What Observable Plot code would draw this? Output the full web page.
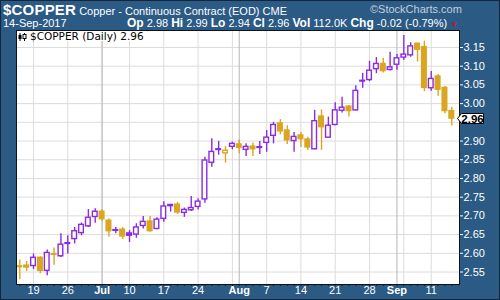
<!DOCTYPE html>
<html><head><meta charset="utf-8">
<script src="https://cdn.jsdelivr.net/npm/d3@7"></script>
<script src="https://cdn.jsdelivr.net/npm/@observablehq/plot@0.6"></script>
<style>
html,body{margin:0;padding:0;background:#2b5a84;}
#wrap{position:relative;width:500px;height:300px;overflow:hidden;background:#2b5a84;font-family:"Liberation Sans",Arial,sans-serif;color:#fff;}
#wrap::after{content:"";position:absolute;left:0;top:0;width:498px;height:298px;border:1px solid #13263b;pointer-events:none;}
#chart{position:absolute;left:0;top:0;}
.hdr{position:absolute;white-space:nowrap;line-height:1;}
#t1{left:3px;top:2px;font-size:11px;}
#t1 b{font-size:15px;letter-spacing:0.2px;}
#wm{left:370px;top:4px;font-size:11px;color:#c3cfdb;}
#t2{left:3px;top:18px;font-size:11px;}
#ohlc{left:127px;top:17px;font-size:11px;}
#ohlc b{font-size:12px;}
#ohlc .tri{color:#d0103a;font-size:8px;}
#legend{position:absolute;left:17px;top:31px;background:#fff;color:#000;font-family:"DejaVu Sans",Verdana,sans-serif;font-size:10.5px;line-height:10px;padding:0 3px 0 1px;white-space:nowrap;}
#legend svg{vertical-align:-1px;margin-right:3px;}
#lasttag{position:absolute;}
</style>
</head><body>
<div id="wrap">
  <div id="chart"></div>
  <div class="hdr" id="t1"><b>$COPPER</b> Copper - Continuous Contract (EOD) CME</div>
  <div class="hdr" id="wm">&copy;StockCharts.com</div>
  <div class="hdr" id="t2">14-Sep-2017</div>
  <div class="hdr" id="ohlc"><b>Op</b> 2.98 <b>Hi</b> 2.99 <b>Lo</b> 2.94 <b>Cl</b> 2.96 <b>Vol</b> 112.0K <b>Chg</b> -0.02 (-0.79%) <span class="tri">&#9660;</span></div>
  <div id="legend"><svg width="9" height="8" viewBox="0 0 9 8"><line x1="2" y1="0" x2="2" y2="8" stroke="#000"/><rect x="0.5" y="2" width="3" height="4" fill="#000"/><line x1="6.5" y1="0" x2="6.5" y2="8" stroke="#000"/><rect x="5" y="1.5" width="3" height="4" fill="#fff" stroke="#000"/></svg>$COPPER (Daily) 2.96</div>
</div>
<script>
// ---- data ----
const dates = ["2017-06-15","2017-06-16","2017-06-19","2017-06-20","2017-06-21","2017-06-22","2017-06-23","2017-06-26","2017-06-27","2017-06-28","2017-06-29","2017-06-30",
"2017-07-03","2017-07-05","2017-07-06","2017-07-07","2017-07-10","2017-07-11","2017-07-12","2017-07-13","2017-07-14","2017-07-17","2017-07-18","2017-07-19","2017-07-20","2017-07-21","2017-07-24","2017-07-25","2017-07-26","2017-07-27","2017-07-28","2017-07-31",
"2017-08-01","2017-08-02","2017-08-03","2017-08-04","2017-08-07","2017-08-08","2017-08-09","2017-08-10","2017-08-11","2017-08-14","2017-08-15","2017-08-16","2017-08-17","2017-08-18","2017-08-21","2017-08-22","2017-08-23","2017-08-24","2017-08-25","2017-08-28","2017-08-29","2017-08-30","2017-08-31",
"2017-09-01","2017-09-05","2017-09-06","2017-09-07","2017-09-08","2017-09-11","2017-09-12","2017-09-13","2017-09-14"];
const open  = [2.565,2.567,2.566,2.588,2.553,2.598,2.592,2.627,2.638,2.654,2.672,2.697,2.711,2.687,2.662,2.663,2.653,2.650,2.673,2.685,2.665,2.692,2.729,2.730,2.708,2.715,2.724,2.744,2.842,2.878,2.867,2.8845,2.891,2.8765,2.885,2.8835,2.895,2.914,2.947,2.928,2.900,2.915,2.904,2.878,2.9655,2.909,2.943,2.981,2.992,2.982,3.061,3.063,3.092,3.106,3.090,3.104,3.123,3.129,3.160,3.151,3.041,3.0725,3.042,2.98];
const high  = [2.582,2.578,2.598,2.591,2.609,2.614,2.652,2.647,2.669,2.681,2.717,2.719,2.717,2.692,2.669,2.669,2.661,2.679,2.698,2.698,2.695,2.738,2.731,2.736,2.721,2.752,2.746,2.857,2.906,2.899,2.885,2.897,2.903,2.8925,2.895,2.899,2.928,2.950,2.9575,2.941,2.923,2.9235,2.910,2.982,2.983,2.964,3.002,3.017,2.995,3.048,3.081,3.113,3.123,3.121,3.137,3.131,3.182,3.163,3.162,3.167,3.086,3.078,3.046,2.99];
const low   = [2.529,2.551,2.557,2.545,2.540,2.568,2.589,2.598,2.625,2.647,2.669,2.680,2.685,2.643,2.652,2.637,2.629,2.640,2.665,2.657,2.663,2.683,2.710,2.704,2.696,2.712,2.716,2.734,2.830,2.862,2.841,2.8765,2.866,2.859,2.859,2.864,2.870,2.8925,2.9166,2.891,2.870,2.883,2.875,2.8765,2.875,2.9086,2.941,2.975,2.964,2.980,3.041,3.059,3.080,3.082,3.087,3.089,3.115,3.124,3.111,3.032,3.033,3.020,2.973,2.94];
const close = [2.563,2.562,2.588,2.553,2.601,2.596,2.623,2.625,2.659,2.676,2.695,2.711,2.691,2.659,2.660,2.645,2.647,2.669,2.684,2.659,2.690,2.725,2.726,2.709,2.716,2.721,2.738,2.848,2.871,2.876,2.874,2.8925,2.882,2.8845,2.878,2.8815,2.909,2.943,2.926,2.902,2.911,2.905,2.883,2.953,2.937,2.941,2.982,2.989,2.980,3.034,3.059,3.088,3.106,3.087,3.097,3.121,3.131,3.153,3.144,3.042,3.066,3.037,2.980,2.96];
const prevClose0 = 2.57;
const lastPrice = 2.96;
const weekTicks  = ["2017-06-19","2017-06-26","2017-07-03","2017-07-10","2017-07-17","2017-07-24","2017-07-31","2017-08-07","2017-08-14","2017-08-21","2017-08-28","2017-09-05","2017-09-11"];
const monthTicks = ["2017-07-03","2017-08-01","2017-09-01"];
const dayLabelTicks = ["2017-06-19","2017-06-26","2017-07-10","2017-07-17","2017-07-24","2017-08-07","2017-08-14","2017-08-21","2017-08-28","2017-09-11"];
const yGrid = [2.55,2.60,2.65,2.70,2.75,2.80,2.85,2.90,2.95,3.00,3.05,3.10,3.15];
const yLabels = [2.55,2.60,2.65,2.70,2.75,2.80,2.85,2.90,3.00,3.05,3.10,3.15]; // 2.95 sits under the last-price tag

// ---- build ----
const PURPLE = "#8a2be2", ORANGE = "#daa520";
const parse = d3.utcParse("%Y-%m-%d");
const idx = d => dates.indexOf(d);
const rows = dates.map((d, i) => {
  const prev = i === 0 ? prevClose0 : close[i - 1];
  return {i, date: d, open: open[i], high: high[i], low: low[i], close: close[i],
    color: close[i] >= prev ? PURPLE : ORANGE, hollow: close[i] > open[i]};
});
const xmin = -0.48, xmax = 64.12;
const hw = 0.34;

const plot = Plot.plot({
  width: 500, height: 300,
  marginLeft: 16, marginRight: 41, marginTop: 30, marginBottom: 16,
  style: {background: "transparent", fontFamily: "'Liberation Sans', Arial, sans-serif", overflow: "visible"},
  x: {type: "linear", domain: [xmin, xmax], axis: null, label: null},
  y: {domain: [2.5166, 3.1954], axis: null, label: null},
  marks: [
    Plot.frame({fill: "white", stroke: null}),
    Plot.gridY(yGrid, {stroke: "#dcdcdc", strokeOpacity: 1}),
    Plot.gridX(weekTicks.map(idx), {stroke: "#dcdcdc", strokeOpacity: 1}),
    Plot.gridX(monthTicks.map(idx), {stroke: "#b5b5b5", strokeOpacity: 1}),
    Plot.ruleX(rows, {x: "i", y1: "low", y2: "high", stroke: d => d.color, strokeWidth: 1.4}),
    Plot.rect(rows.filter(d => d.hollow), {x1: d => d.i - hw, x2: d => d.i + hw, y1: "open", y2: "close", fill: "white", stroke: d => d.color, strokeWidth: 1.4}),
    Plot.rect(rows.filter(d => !d.hollow), {x1: d => d.i - hw, x2: d => d.i + hw, y1: "open", y2: "close", fill: d => d.color, stroke: d => d.color, strokeWidth: 1.4}),
    Plot.frame({stroke: "#111", strokeWidth: 1}),
    Plot.axisY(yLabels, {anchor: "right", tickFormat: ".2f", tickSize: 3, tickPadding: 1, fontSize: 11, color: "white", label: null}),
    Plot.axisX(rows.map(d => d.i), {anchor: "bottom", tickSize: 2, stroke: "#0d1b2a", fill: "none", label: null}),
    Plot.axisX(dayLabelTicks.map(idx), {anchor: "bottom", tickSize: 0, tickPadding: 2, fontSize: 11, color: "white", label: null,
      tickFormat: i => d3.utcFormat("%-d")(parse(dates[i]))}),
    Plot.axisX(monthTicks.map(idx), {anchor: "bottom", tickSize: 0, tickPadding: 2, fontSize: 11, fontWeight: "bold", color: "white", label: null,
      tickFormat: i => d3.utcFormat("%b")(parse(dates[i]))})
  ]
});
document.getElementById("chart").appendChild(plot);

// last-price tag on the right axis, positioned through the plot's own scales
const tx = plot.scale("x").apply(xmax);
const ty = plot.scale("y").apply(lastPrice);
const tag = document.createElement("div");
tag.id = "lasttag";
tag.style.left = (tx - 2) + "px";
tag.style.top = (ty - 6.5) + "px";
tag.innerHTML = `<svg width="28" height="13" viewBox="0 0 28 13" style="display:block;overflow:visible">
  <path d="M0.5,6.5 L4.5,1.5 L26.5,1.5 L26.5,11.5 L4.5,11.5 Z" fill="#fff" stroke="#000" stroke-width="1"/>
  <text x="15.5" y="10.5" text-anchor="middle" font-family="Liberation Sans, Arial, sans-serif" font-size="11.5" font-weight="bold" fill="#000">${d3.format(".2f")(lastPrice)}</text></svg>`;
document.getElementById("wrap").appendChild(tag);
</script>
</body></html>
